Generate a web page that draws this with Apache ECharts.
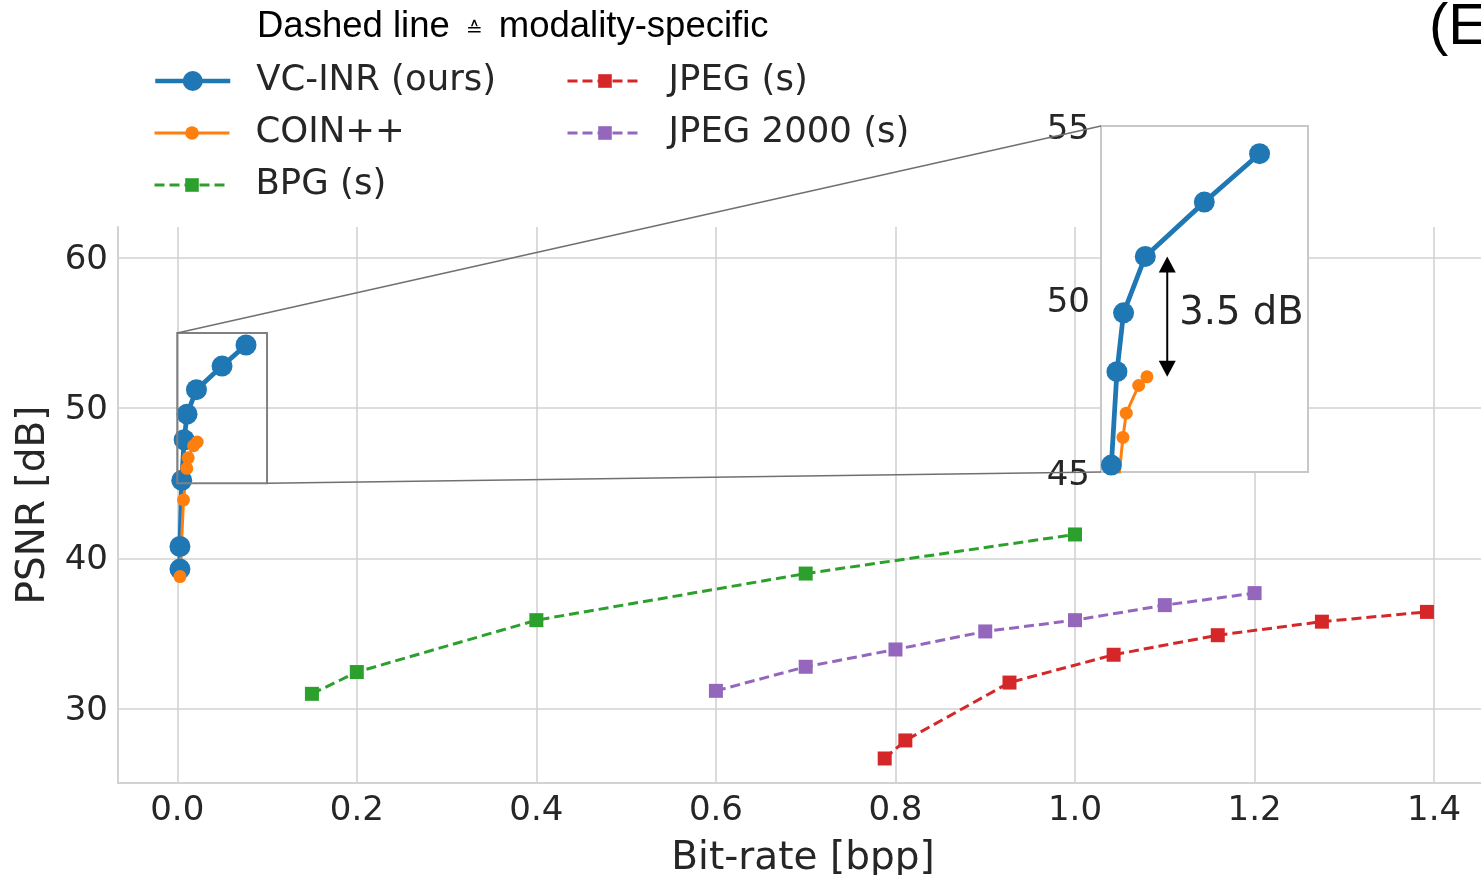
<!DOCTYPE html>
<html>
<head>
<meta charset="utf-8">
<script src="https://cdn.jsdelivr.net/npm/echarts@6/dist/echarts.min.js"></script>
<style>
  html, body { margin: 0; padding: 0; background: #fff; overflow: hidden; }
  #chart { width: 1481px; height: 875px; }
</style>
</head>
<body>
<div id="chart"></div>
<script>
// Rate-distortion results: bit-rate [bpp] vs PSNR [dB]
const vcX = [0.003, 0.003, 0.005, 0.0077, 0.0109, 0.0214, 0.0499, 0.0766];
const vcY = [39.3, 40.8, 45.2, 47.9, 49.6, 51.23, 52.8, 54.2];
const coinX = [0.003, 0.007, 0.0106, 0.0122, 0.0182, 0.0222];
const coinY = [38.8, 43.9, 46.0, 46.7, 47.5, 47.75];
const bpgX = [0.15, 0.2, 0.4, 0.7, 1.0];
const bpgY = [31.0, 32.45, 35.9, 39.0, 41.6];
const jpegX = [0.788, 0.811, 0.927, 1.043, 1.159, 1.275, 1.392];
const jpegY = [26.7, 27.9, 31.75, 33.6, 34.9, 35.8, 36.45];
const j2kX = [0.6, 0.7, 0.8, 0.9, 1.0, 1.1, 1.2];
const j2kY = [31.2, 32.8, 33.95, 35.15, 35.9, 36.9, 37.7];

const xTicks = [0, 0.2, 0.4, 0.6, 0.8, 1.0, 1.2, 1.4];
const yTicks = [30, 40, 50, 60];
const insetYTicks = [45, 50, 55];
const zoomX = [0, 0.1];
const zoomY = [45, 55];

const pairs = (xs, ys) => xs.map((x, i) => [x, ys[i]]);

const FONT = 'DejaVu Sans';
const TXT = '#262626';
const GRID = '#d2d2d2';
const C = { blue: '#1f77b4', orange: '#ff7f0e', green: '#2ca02c', red: '#d62728', purple: '#9467bd' };
const DASH = [10, 5];

function solidSeries(name, xs, ys, color, lw, size, gi, z) {
  return {
    name, type: 'line', data: pairs(xs, ys), xAxisIndex: gi, yAxisIndex: gi,
    symbol: 'circle', symbolSize: size, showSymbol: true, clip: true, z,
    lineStyle: { color, width: lw, type: 'solid' },
    itemStyle: { color, borderWidth: 0 },
    emphasis: { disabled: true }, animation: false
  };
}
function dashedSeries(name, xs, ys, color) {
  return {
    name, type: 'line', data: pairs(xs, ys), xAxisIndex: 0, yAxisIndex: 0,
    symbol: 'rect', symbolSize: 14, z: 2,
    lineStyle: { color, width: 3, type: DASH },
    itemStyle: { color, borderWidth: 0 },
    emphasis: { disabled: true }, animation: false
  };
}

const legendText = {
  fontFamily: FONT, fontSize: 35.5, color: TXT, lineHeight: 40, padding: [0, 0, 0, 21]
};
const solidItem = (name, color, lw) => ({ name, itemStyle: { color }, lineStyle: { color, width: lw, type: 'solid' } });
const dashItem = (name, color) => ({ name, itemStyle: { color }, lineStyle: { color, width: 3, type: DASH } });

const chart = echarts.init(document.getElementById('chart'), null, { renderer: 'canvas' });

chart.setOption({
  animation: false,
  backgroundColor: '#fff',
  title: [
    { text: '{t|Dashed line }{s|\u2259}{t| modality-specific}', left: 257, top: 8, padding: 0,
      textStyle: { fontFamily: 'Liberation Sans', fontSize: 36.5, fontWeight: 'normal', color: '#000',
        rich: {
          t: { fontFamily: 'Liberation Sans', fontSize: 36.5, color: '#000' },
          s: { fontFamily: 'DejaVu Sans', fontSize: 20, color: '#000', padding: [8, 6, 0, 6] }
        } } },
    { text: '(E)', left: 1429, top: -1, padding: 0,
      textStyle: { fontFamily: 'Liberation Sans', fontSize: 58, fontWeight: 'normal', color: '#000' } }
  ],
  legend: [
    { data: [solidItem('VC-INR (ours)', C.blue, 4.5)], orient: 'vertical', left: 153, top: 61, padding: 0,
      itemWidth: 75, itemHeight: 25, itemGap: 12, selectedMode: false, textStyle: legendText },
    { data: [solidItem('COIN++', C.orange, 3), dashItem('BPG (s)', C.green)],
      orient: 'vertical', left: 153, top: 113, padding: 0,
      itemWidth: 75, itemHeight: 17, itemGap: 12, selectedMode: false, textStyle: legendText },
    { data: [dashItem('JPEG (s)', C.red), dashItem('JPEG 2000 (s)', C.purple)],
      orient: 'vertical', left: 566, top: 61, padding: 0,
      itemWidth: 75, itemHeight: 17, itemGap: 12, selectedMode: false, textStyle: legendText }
  ],
  grid: [
    { left: 118, top: 227, width: 1370, height: 556, show: false, outerBoundsMode: 'none', containLabel: false },
    { left: 1101, top: 126, width: 207, height: 346, show: true, z: 3, outerBoundsMode: 'none', containLabel: false,
      backgroundColor: '#fff', borderColor: '#c8c8c8', borderWidth: 2 }
  ],
  xAxis: [
    { type: 'value', gridIndex: 0, min: -0.066, max: 1.46,
      name: 'Bit-rate [bpp]', nameLocation: 'middle', nameGap: 56,
      nameTextStyle: { fontFamily: FONT, fontSize: 39, color: TXT },
      axisLine: { show: true, onZero: false, lineStyle: { color: GRID, width: 2 } },
      axisTick: { show: false, customValues: xTicks },
      axisLabel: { customValues: xTicks, formatter: v => v.toFixed(1),
        fontFamily: FONT, fontSize: 34, color: TXT, margin: 11 },
      splitLine: { show: true, lineStyle: { color: GRID, width: 1.6 } } },
    { type: 'value', gridIndex: 1, min: zoomX[0], max: zoomX[1], z: 4,
      axisLine: { show: false }, axisTick: { show: false },
      axisLabel: { show: false }, splitLine: { show: false } }
  ],
  yAxis: [
    { type: 'value', gridIndex: 0, min: 25.07, max: 62.05,
      name: 'PSNR [dB]', nameLocation: 'middle', nameGap: 63,
      nameTextStyle: { fontFamily: FONT, fontSize: 39, color: TXT },
      axisLine: { show: true, onZero: false, lineStyle: { color: GRID, width: 2 } },
      axisTick: { show: false, customValues: yTicks },
      axisLabel: { customValues: yTicks, fontFamily: FONT, fontSize: 34, color: TXT, margin: 10,
        verticalAlign: 'top', lineHeight: 4 },
      splitLine: { show: true, lineStyle: { color: GRID, width: 1.6 } } },
    { type: 'value', gridIndex: 1, min: zoomY[0], max: zoomY[1], z: 4,
      axisLine: { show: false }, axisTick: { show: false, customValues: insetYTicks },
      axisLabel: { customValues: insetYTicks, fontFamily: FONT, fontSize: 34, color: TXT, margin: 11,
        verticalAlign: 'top', lineHeight: 8 },
      splitLine: { show: false } }
  ],
  series: [
    solidSeries('VC-INR (ours)', vcX, vcY, C.blue, 4.8, 21, 0, 2),
    solidSeries('COIN++', coinX, coinY, C.orange, 3, 13, 0, 2),
    dashedSeries('BPG (s)', bpgX, bpgY, C.green),
    dashedSeries('JPEG (s)', jpegX, jpegY, C.red),
    dashedSeries('JPEG 2000 (s)', j2kX, j2kY, C.purple),
    // zoomed-in copies for the inset
    solidSeries('VC-INR (ours)', vcX, vcY, C.blue, 4.8, 21, 1, 5),
    solidSeries('COIN++', coinX, coinY, C.orange, 3, 13, 1, 5)
  ]
});

// Zoom box, connector lines and the PSNR gap annotation, placed through the axes
const p0 = (x, y) => chart.convertToPixel({ gridIndex: 0 }, [x, y]);
const p1 = (x, y) => chart.convertToPixel({ gridIndex: 1 }, [x, y]);

const boxTL = p0(zoomX[0], zoomY[1]);
const boxBR = p0(zoomX[1], zoomY[0]);
const insTL = p1(zoomX[0], zoomY[1]);
const insBL = p1(zoomX[0], zoomY[0]);

const gapTop = vcY[5];
const gapBottom = coinY[coinY.length - 1];
const arrowX = 0.032;
const aTop = p1(arrowX, gapTop);
const aBot = p1(arrowX, gapBottom);
const headL = 16, headW = 8.5;

chart.setOption({
  graphic: [
    { type: 'rect', z: 10, silent: true,
      shape: { x: boxTL[0], y: boxTL[1], width: boxBR[0] - boxTL[0], height: boxBR[1] - boxTL[1] },
      style: { fill: null, stroke: '#808080', lineWidth: 2 } },
    { type: 'line', z: 10, silent: true,
      shape: { x1: boxTL[0], y1: boxTL[1], x2: insTL[0], y2: insTL[1] },
      style: { stroke: '#707070', lineWidth: 1.5 } },
    { type: 'line', z: 10, silent: true,
      shape: { x1: boxBR[0], y1: boxBR[1], x2: insBL[0], y2: insBL[1] },
      style: { stroke: '#707070', lineWidth: 1.5 } },
    { type: 'line', z: 12, silent: true,
      shape: { x1: aTop[0], y1: aTop[1] + headL - 2, x2: aBot[0], y2: aBot[1] - headL + 2 },
      style: { stroke: '#000', lineWidth: 2 } },
    { type: 'polygon', z: 12, silent: true,
      shape: { points: [[aTop[0], aTop[1]], [aTop[0] - headW, aTop[1] + headL], [aTop[0] + headW, aTop[1] + headL]] },
      style: { fill: '#000' } },
    { type: 'polygon', z: 12, silent: true,
      shape: { points: [[aBot[0], aBot[1]], [aBot[0] - headW, aBot[1] - headL], [aBot[0] + headW, aBot[1] - headL]] },
      style: { fill: '#000' } },
    { type: 'text', z: 12, silent: true,
      x: aTop[0] + 12, y: (aTop[1] + aBot[1]) / 2 - 3,
      style: { text: (gapTop - gapBottom).toFixed(1) + ' dB', fontFamily: FONT, fontSize: 38.5,
        fill: TXT, verticalAlign: 'middle', align: 'left' } }
  ]
});
</script>
</body>
</html>
